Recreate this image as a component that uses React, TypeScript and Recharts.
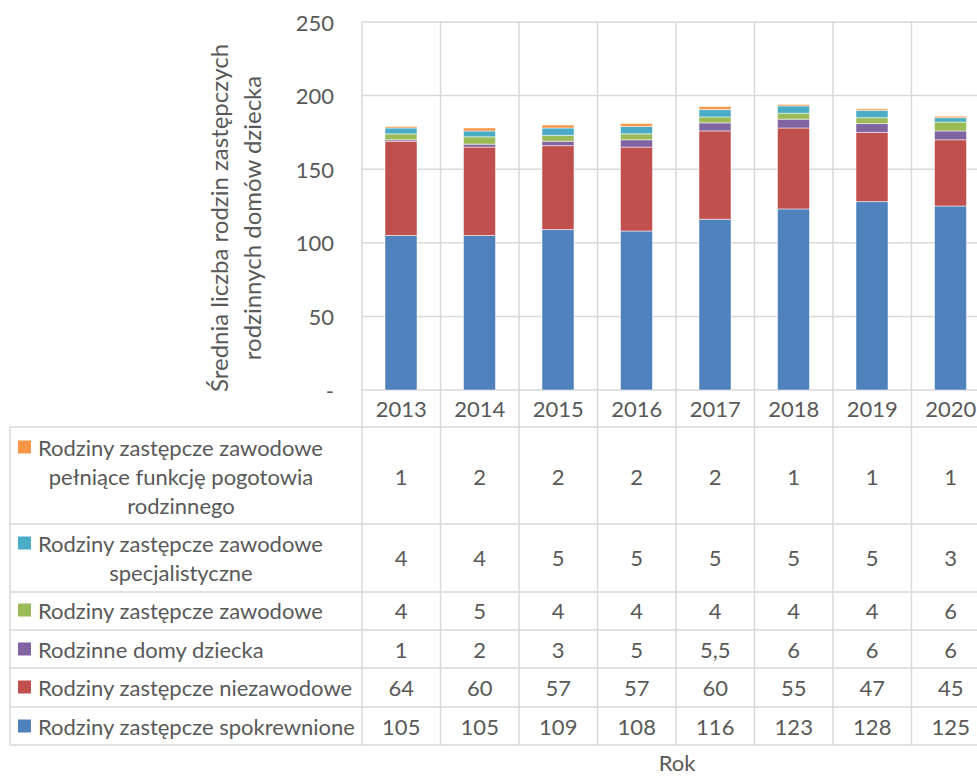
import { BarChart, Bar, XAxis, YAxis, CartesianGrid, Customized } from 'recharts';

const years = ['2013', '2014', '2015', '2016', '2017', '2018', '2019', '2020'];
const spokrewnione = [105, 105, 109, 108, 116, 123, 128, 125];
const niezawodowe = [64, 60, 57, 57, 60, 55, 47, 45];
const domyDziecka = [1, 2, 3, 5, 5.5, 6, 6, 6];
const zawodowe = [4, 5, 4, 4, 4, 4, 4, 6];
const specjalistyczne = [4, 4, 5, 5, 5, 5, 5, 3];
const pogotowie = [1, 2, 2, 2, 2, 1, 1, 1];
const yTicks = [0, 50, 100, 150, 200, 250];

// bottom-up stacking order
const series = [
  { key: 'spokrewnione', values: spokrewnione, color: '#4F81BD', label: ['Rodziny zastępcze spokrewnione'] },
  { key: 'niezawodowe', values: niezawodowe, color: '#C0504D', label: ['Rodziny zastępcze niezawodowe'] },
  { key: 'domyDziecka', values: domyDziecka, color: '#8064A2', label: ['Rodzinne domy dziecka'] },
  { key: 'zawodowe', values: zawodowe, color: '#9BBB59', label: ['Rodziny zastępcze zawodowe'] },
  { key: 'specjalistyczne', values: specjalistyczne, color: '#4BACC6', label: ['Rodziny zastępcze zawodowe', 'specjalistyczne'] },
  { key: 'pogotowie', values: pogotowie, color: '#F79646', label: ['Rodziny zastępcze zawodowe', 'pełniące funkcję pogotowia', 'rodzinnego'] },
];

const data = years.map((year, i) => {
  const row: Record<string, number | string> = { year };
  series.forEach((s) => (row[s.key] = s.values[i]));
  return row;
});

const W = 1000;
const H = 776;
const M = { top: 22, right: 10, left: 302, bottom: 0 };
const Y_AXIS_W = 60;
const PLOT_LEFT = M.left + Y_AXIS_W;
const PLOT_BOTTOM = 390;
const BAND = (W - PLOT_LEFT - M.right) / years.length;

// table layout (top to bottom rows = reversed series)
const tableRows = [...series].reverse();
const rowEdges = [427, 524, 592, 630, 668, 707, 745];
const rowLineY = [
  [447, 476, 505],
  [543, 572],
  [610],
  [649],
  [687],
  [726],
];
const rowValueY = [476, 557, 610, 649, 687, 726];

const FONT = 'Lato, Carlito, sans-serif';
const TXT = '#595959';
const GRID = '#d9d9d9';
const FS = 22;

const fmt = (v: number) => String(v).replace('.', ',');

function YearTick(props: any) {
  const { x, index, payload } = props;
  const left = x - BAND / 2;
  return (
    <g>
      <line x1={left} x2={left} y1={M.top} y2={rowEdges[rowEdges.length - 1]} stroke={GRID} strokeWidth={1.5} />
      {index === years.length - 1 && (
        <line x1={left + BAND} x2={left + BAND} y1={M.top} y2={rowEdges[rowEdges.length - 1]} stroke={GRID} strokeWidth={1.5} />
      )}
      <text x={x} y={408} textAnchor="middle" dominantBaseline="central" fontSize={FS} fill={TXT} fontFamily={FONT}>
        {payload.value}
      </text>
      {tableRows.map((s, r) => (
        <text key={s.key} x={x} y={rowValueY[r]} textAnchor="middle" dominantBaseline="central" fontSize={FS} fill={TXT} fontFamily={FONT}>
          {fmt(s.values[index])}
        </text>
      ))}
    </g>
  );
}

function YTick(props: any) {
  const { y, payload } = props;
  return (
    <text x={334} y={y} textAnchor="end" dominantBaseline="central" fontSize={FS} fill={TXT} fontFamily={FONT}>
      {payload.value === 0 ? '-' : payload.value}
    </text>
  );
}

function TableOverlay() {
  return (
    <g fontFamily={FONT} fontSize={FS} fill={TXT}>
      {rowEdges.map((y) => (
        <line key={y} x1={10} x2={W} y1={y} y2={y} stroke={GRID} strokeWidth={1.5} />
      ))}
      <line x1={10} x2={10} y1={rowEdges[0]} y2={rowEdges[rowEdges.length - 1]} stroke={GRID} strokeWidth={1.5} />
      {tableRows.map((s, r) => (
        <g key={s.key}>
          <rect x={18} y={rowLineY[r][0] - 6.5} width={13} height={13} fill={s.color} />
          {s.label.map((line, li) => (
            <text
              key={li}
              x={li === 0 ? 38 : 181}
              y={rowLineY[r][li]}
              textAnchor={li === 0 ? 'start' : 'middle'}
              dominantBaseline="central"
              fill={TXT}
            >
              {line}
            </text>
          ))}
        </g>
      ))}
      <g transform="translate(218, 218) rotate(-90)" fontSize={24}>
        <text x={0} y={0} textAnchor="middle" dominantBaseline="central" fill={TXT}>
          Średnia liczba rodzin zastępczych
        </text>
        <text x={0} y={33} textAnchor="middle" dominantBaseline="central" fill={TXT}>
          rodzinnych domów dziecka
        </text>
      </g>
      <text x={677} y={762} textAnchor="middle" dominantBaseline="central" fill={TXT}>
        Rok
      </text>
    </g>
  );
}

export default function App() {
  return (
    <div style={{ position: 'absolute', left: 0, top: 0, width: 977, height: 776, overflow: 'hidden', background: '#fff' }}>
      <BarChart width={W} height={H} data={data} margin={M} barSize={32}>
        <CartesianGrid vertical={false} stroke={GRID} strokeWidth={1.5} />
        <YAxis
          width={Y_AXIS_W}
          domain={[0, 250]}
          ticks={yTicks}
          axisLine={false}
          tickLine={false}
          tick={<YTick />}
        />
        <XAxis
          dataKey="year"
          height={H - PLOT_BOTTOM - M.bottom}
          axisLine={false}
          tickLine={false}
          interval={0}
          tick={<YearTick />}
        />
        {series.map((s) => (
          <Bar
            key={s.key}
            dataKey={s.key}
            stackId="a"
            fill={s.color}
            stroke="#ffffff"
            strokeOpacity={0.5}
            strokeWidth={1}
            isAnimationActive={false}
          />
        ))}
        <Customized component={<TableOverlay />} />
      </BarChart>
    </div>
  );
}
